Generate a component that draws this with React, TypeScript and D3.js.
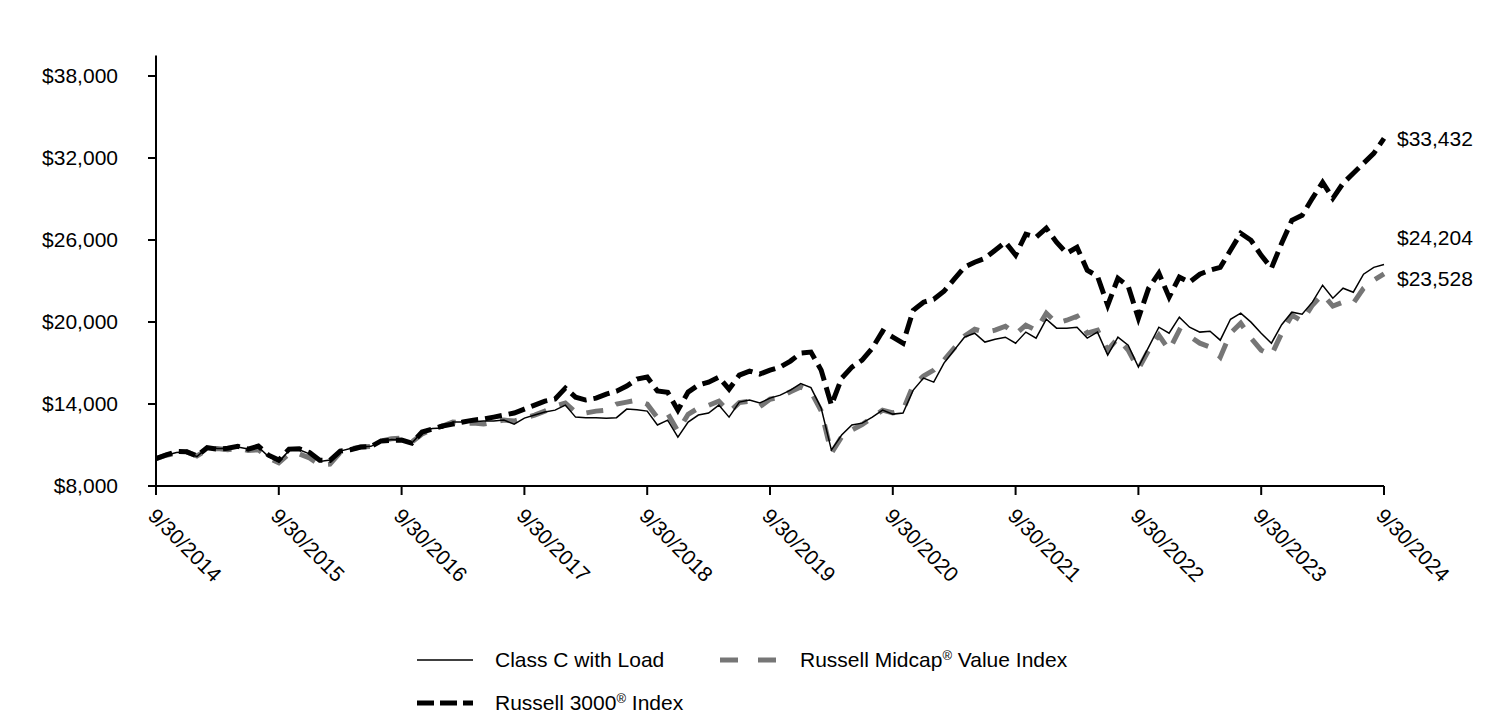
import React from 'react';
import * as d3 from 'd3';

const xTickLabels = ["9/30/2014","9/30/2015","9/30/2016","9/30/2017","9/30/2018","9/30/2019","9/30/2020","9/30/2021","9/30/2022","9/30/2023","9/30/2024"];
const yTicks = [8000, 14000, 20000, 26000, 32000, 38000];

const classC = [
  10000,10250,10450,10500,10150,10800,10750,10750,10850,10700,10850,10150,
  9750,10600,10650,10350,9800,9900,10550,10750,10850,10900,11250,11400,
  11360,11140,11950,12200,12240,12680,12680,12700,12750,12750,12820,12530,
  12970,13190,13410,13550,13920,13040,13000,13000,12950,13000,13630,13580,
  13480,12460,12820,11580,12680,13190,13340,13920,13040,14140,14290,14070,
  14430,14650,15020,15500,15200,13700,10630,11730,12460,12600,13040,13550,
  13260,13340,15020,15900,15600,16990,17940,18890,19180,18530,18740,18890,
  18450,19260,18820,20200,19550,19550,19620,18820,19260,17580,18890,18300,
  16700,18160,19620,19180,20350,19620,19260,19330,18670,20200,20650,19990,
  19180,18450,19800,20720,20570,21450,22690,21740,22470,22180,23500,24000,
  24204
];

const russell3000 = [
  10000,10270,10520,10500,10200,10800,10700,10760,10900,10700,10920,10250,
  9900,10700,10720,10450,9880,9870,10550,10650,10850,10880,11300,11350,
  11360,11140,11950,12170,12390,12530,12680,12820,12900,13040,13190,13340,
  13630,13920,14210,14360,15160,14500,14290,14430,14720,14940,15310,15820,
  15970,14950,14850,13550,14870,15380,15600,15970,15090,16110,16410,16190,
  16480,16700,17140,17720,17800,16480,13920,15890,16700,17210,18090,19330,
  18890,18450,20860,21450,21670,22250,23130,24010,24370,24660,25250,25840,
  24900,26420,26200,26860,25840,25030,25470,23790,23350,21230,23200,22620,
  20280,22470,23570,21820,23280,22910,23500,23790,24000,25250,26490,25980,
  24880,23940,25760,27440,27810,29050,30220,29050,30150,30880,31610,32340,
  33432
];

const midcapValue = [
  10000,10250,10400,10500,10200,10650,10750,10650,10750,10600,10650,10050,
  9700,10350,10350,10050,9550,9600,10450,10700,10850,10900,11300,11450,
  11500,11220,11800,12170,12390,12680,12600,12600,12530,12680,12820,12750,
  12970,13190,13480,13850,14070,13410,13340,13480,13550,13990,14140,14290,
  13990,13000,13300,12000,13250,13700,13900,14200,13400,14100,14200,13800,
  14350,14500,14900,15250,14900,13500,10400,11600,12100,12500,13000,13550,
  13340,13550,15380,16040,16480,17210,18090,18960,19470,19250,19400,19690,
  19110,19770,19400,20640,19910,20130,20420,19180,19400,17940,18820,17940,
  16550,17940,19040,17940,19400,18960,18450,18160,17430,19180,19910,18820,
  17940,17580,19180,20500,20060,21230,22030,21160,21450,21380,22470,23060,
  23528
];

const FONT = "Arial, 'Liberation Sans', sans-serif";
const fmt = (v: number) => "$" + d3.format(",")(v);

export default function App() {
  const W = 1512, H = 718;
  const n = classC.length - 1;
  const x = d3.scaleLinear().domain([0, n]).range([156, 1384]);
  const y = d3.scaleLinear().domain([8000, 39500]).range([486, 55.5]);
  const line = d3.line<number>().x((_, i) => x(i)).y(d => y(d));
  const fs = 21;

  const endLabels = [
    { v: russell3000[n], dy: 0 },
    { v: classC[n], dy: -27 },
    { v: midcapValue[n], dy: 5 },
  ];

  return (
    <svg width={W} height={H} style={{ position: 'absolute', left: 0, top: 0, display: 'block', background: '#fff' }} fontFamily={FONT}>
      <rect width={W} height={H} fill="#fff" />
      <path d={line(midcapValue) || ''} fill="none" stroke="#767676" strokeWidth={5} strokeDasharray="17,14" />
      <path d={line(russell3000) || ''} fill="none" stroke="#000" strokeWidth={5} strokeDasharray="17,7" />
      <path d={line(classC) || ''} fill="none" stroke="#000" strokeWidth={1.5} />

      <line x1={156} x2={156} y1={y(39500)} y2={486} stroke="#000" strokeWidth={2} />
      {yTicks.map(t => (
        <g key={t}>
          <line x1={148} x2={156} y1={y(t)} y2={y(t)} stroke="#000" strokeWidth={2} />
          <text x={118} y={y(t)} dy="0.35em" textAnchor="end" fontSize={fs} fill="#000">{fmt(t)}</text>
        </g>
      ))}

      <line x1={156} x2={1384} y1={486} y2={486} stroke="#000" strokeWidth={2} />
      {xTickLabels.map((lab, i) => {
        const xx = x(i * 12);
        return (
          <g key={lab}>
            <line x1={xx} x2={xx} y1={486} y2={495} stroke="#000" strokeWidth={2} />
            <text transform={`translate(${xx - 4},${512}) rotate(45)`} fontSize={fs} fill="#000" dy="0.35em">{lab}</text>
          </g>
        );
      })}

      {endLabels.map((l, i) => (
        <text key={i} x={1397} y={y(l.v) + l.dy} dy="0.35em" fontSize={fs} fill="#000">{fmt(l.v)}</text>
      ))}

      <g fontSize={fs} fill="#000">
        <line x1={417} x2={473} y1={660} y2={660} stroke="#000" strokeWidth={1.5} />
        <text x={495} y={660} dy="0.35em">Class C with Load</text>
        <line x1={720} x2={778} y1={660} y2={660} stroke="#767676" strokeWidth={5} strokeDasharray="18,20" />
        <text x={800} y={660} dy="0.35em">Russell Midcap<tspan baselineShift="super" fontSize={13}>®</tspan> Value Index</text>
        <line x1={417} x2={473} y1={703} y2={703} stroke="#000" strokeWidth={5} strokeDasharray="17,6" />
        <text x={495} y={703} dy="0.35em">Russell 3000<tspan baselineShift="super" fontSize={13}>®</tspan> Index</text>
      </g>
    </svg>
  );
}
